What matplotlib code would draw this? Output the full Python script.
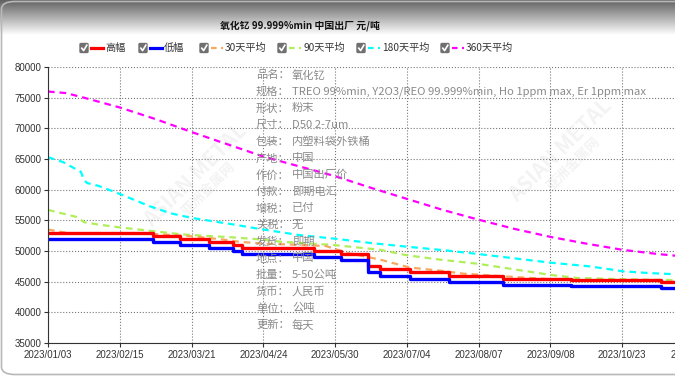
import matplotlib
matplotlib.use("Agg")
import matplotlib.pyplot as plt
from matplotlib.patches import FancyBboxPatch
from matplotlib.lines import Line2D
import numpy as np

plt.rcParams['font.family'] = ['Noto Sans CJK SC', 'DejaVu Sans']

# 日期刻度 (按交易日序号, 每 24 个点一个刻度)
tick_idx = [0, 24, 48, 72, 96, 120, 144, 168, 192, 216]
tick_labels = ["2023/01/03", "2023/02/15", "2023/03/21", "2023/04/24", "2023/05/30",
               "2023/07/04", "2023/08/07", "2023/09/08", "2023/10/23", "2023/11/24"]

# 高幅 / 低幅: 价格变动点
step_idx = [0, 35, 44, 54, 62, 65, 89, 98, 107, 111, 121, 134, 152, 175, 205, 215]
high = [53000, 52500, 52000, 51500, 51000, 50500, 50000, 49500, 47500, 47000,
        46500, 46000, 45500, 45300, 45000, 45000]
low = [52000, 51500, 51000, 50500, 50000, 49500, 49000, 48500, 46500, 46000,
       45500, 45000, 44500, 44300, 44000, 44000]

# 均线
ma30_idx = [0, 7, 14, 34, 40, 48, 58, 64, 72, 84, 93, 100, 111, 121, 131, 139, 153, 168, 180, 200, 215]
ma30 = [53500, 52900, 52800, 52800, 52650, 52400, 51900, 51500, 51200, 51000, 50800,
        49700, 48600, 47300, 46800, 46300, 45850, 45400, 45200, 45100, 44900]

ma90_idx = [0, 10, 12, 17, 24, 34, 44, 48, 61, 72, 78, 95, 111, 120, 131, 144, 156, 168, 177, 192, 215]
ma90 = [56700, 55500, 54700, 54300, 53850, 53300, 52750, 52600, 52250, 51850, 51500,
        51000, 50200, 49300, 48600, 47900, 47000, 46100, 45600, 45400, 45200]

ma180_idx = [0, 5, 11, 12, 13, 17, 24, 34, 41, 48, 61, 72, 84, 96, 108, 120, 133, 144,
             156, 168, 181, 188, 192, 201, 215]
ma180 = [65300, 64500, 62900, 61600, 61100, 60600, 59300, 57300, 56150, 55400, 54400,
         53500, 52600, 52000, 51300, 50700, 50100, 49500, 48800, 48100, 47500, 47000,
         46700, 46400, 46100]

ma360_idx = [0, 6, 12, 24, 36, 48, 60, 72, 84, 96, 108, 120, 132, 144, 156, 168, 180, 192, 204, 215]
ma360 = [76000, 75750, 75000, 73400, 71500, 69400, 67400, 65400, 63800, 62200, 60300,
         58500, 56700, 55100, 53600, 52300, 51200, 50200, 49500, 49000]

info = [("品名：", "氧化钇"),
        ("规格：", "TREO 99%min, Y2O3/REO 99.999%min, Ho 1ppm max, Er 1ppm max"),
        ("形状：", "粉末"),
        ("尺寸：", "D50 2-7um"),
        ("包装：", "内塑料袋外铁桶"),
        ("产地：", "中国"),
        ("作价：", "中国出厂价"),
        ("付款：", "即期电汇"),
        ("增税：", "已付"),
        ("关税：", "无"),
        ("发货：", "即期"),
        ("地点：", "中国"),
        ("批量：", "5-50公吨"),
        ("货币：", "人民币"),
        ("单位：", "公吨"),
        ("更新：", "每天")]

W, H = 675, 376
fig = plt.figure(figsize=(W / 100, H / 100), dpi=100)


def px(x, y):
    return x / W, 1 - y / H


# 顶部灰色渐变
hdr = fig.add_axes([0, 1 - 42 / H, 1, 42 / H], zorder=0)
grad = np.linspace(0.34, 1.0, 64).reshape(-1, 1)
grad = np.clip(grad * 1.12, 0, 1)
hdr.imshow(grad, aspect='auto', cmap='gray', vmin=0, vmax=1, extent=[0, 1, 0, 1])
hdr.axis('off')

# 外框
fig.add_artist(FancyBboxPatch(px(1.5, 374.5), (W + 20) / W, 373 / H,
                              boxstyle="round,pad=0,rounding_size=0.02",
                              transform=fig.transFigure, fill=False,
                              edgecolor='#b8b8b8', lw=1.2, zorder=5))

fig.text(*px(300, 26), "氧化钇 99.999%min 中国出厂 元/吨", ha='center', va='center',
         fontsize=7.1, fontweight='bold', color='#111111')

ax = fig.add_axes([48 / W, 33 / H, (694 - 48) / W, 276 / H], zorder=2)
ax.set_xlim(0, 216)
ax.set_ylim(35000, 80000)
ax.set_facecolor('none')

# 水印
for (wx, wy) in [(195, 175), (560, 150)]:
    fig.text(*px(wx, wy), "ASIAN METAL", rotation=45, ha='center', va='center',
             fontsize=15, fontweight='bold', color='#000000', alpha=0.05, zorder=1)
    fig.text(*px(wx + 14, wy + 14), "亚洲金属网", rotation=45, ha='center', va='center',
             fontsize=10, fontweight='bold', color='#000000', alpha=0.05, zorder=1)

ax.plot(ma360_idx, ma360, color='#ff00ff', lw=1.6, dashes=(3, 2.2))
ax.plot(ma180_idx, ma180, color='#00ffff', lw=1.6, dashes=(3, 2.2))
ax.plot(ma90_idx, ma90, color='#b0ef5a', lw=1.6, dashes=(3, 2.2))
ax.plot(ma30_idx, ma30, color='#f5a860', lw=1.6, dashes=(3, 2.2))
ax.plot(step_idx, high, color='#ff0000', lw=2.4, drawstyle='steps-post')
ax.plot(step_idx, low, color='#0000ff', lw=2.4, drawstyle='steps-post')

ax.set_yticks(np.arange(35000, 80001, 5000))
ax.set_xticks(tick_idx)
ax.set_xticklabels(tick_labels)
ax.grid(True, color='#777777', linestyle=':', lw=0.8)
ax.set_axisbelow(True)
for s in ['top', 'right']:
    ax.spines[s].set_visible(False)
ax.spines['left'].set_color('#333333')
ax.spines['bottom'].set_color('#333333')
ax.tick_params(axis='both', labelsize=7, colors='#333333', length=3, width=0.8)
for lab in ax.get_xticklabels() + ax.get_yticklabels():
    lab.set_family('Liberation Sans')
ax.tick_params(axis='y', pad=1.5)
ax.tick_params(axis='x', pad=2)

# 信息面板
for i, (k, v) in enumerate(info):
    y = 75 + i * 16.67
    fig.text(*px(256, y), k, ha='left', va='center', fontsize=8.1, color='#8a8a8a', zorder=3)
    fig.text(*px(292, y), v, ha='left', va='center', fontsize=8.1, color='#8a8a8a', zorder=3)

# 图例
legend_items = [(80, "高幅", '#ff0000', None),
                (139, "低幅", '#0000ff', None),
                (200, "30天平均", '#f5a860', (2.5, 2)),
                (278, "90天平均", '#b0ef5a', (2.5, 2)),
                (357, "180天平均", '#00ffff', (2.5, 2)),
                (441, "360天平均", '#ff00ff', (2.5, 2))]
ly = 48
for x0, name, col, dash in legend_items:
    fig.add_artist(FancyBboxPatch(px(x0, ly + 4.5), 8 / W, 9 / H,
                                  boxstyle="round,pad=0,rounding_size=0.002",
                                  transform=fig.transFigure, facecolor='#707070',
                                  edgecolor='#707070', zorder=4))
    cx = [x0 + 1.8, x0 + 3.6, x0 + 6.8]
    cy = [ly + 0.2, ly + 2.6, ly - 2.8]
    fig.add_artist(Line2D([c / W for c in cx], [1 - c / H for c in cy], color='white',
                          lw=1.2, transform=fig.transFigure, zorder=5))
    lx = [(x0 + 11) / W, (x0 + 23) / W]
    ln = Line2D(lx, [1 - ly / H] * 2, color=col, lw=2.3 if dash is None else 1.6,
                transform=fig.transFigure, zorder=4)
    if dash is not None:
        ln.set_dashes(dash)
    fig.add_artist(ln)
    fig.text((x0 + 25) / W, 1 - ly / H, name, ha='left', va='center', fontsize=7.3,
             color='#333333', zorder=4)

fig.savefig("out.png", dpi=100)
